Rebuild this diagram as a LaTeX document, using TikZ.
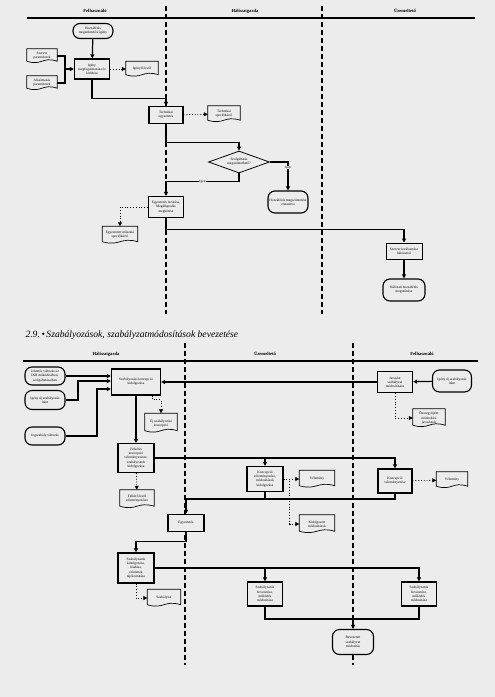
\documentclass[tikz,border=0pt]{standalone}
\usepackage{fontspec}
\setmainfont{Liberation Serif}
\usetikzlibrary{arrows.meta, positioning, calc, shapes.geometric}

\definecolor{scan}{gray}{0.925}
\newcommand{\nodefont}{\fontsize{3.5}{4.2}\selectfont}
\newcommand{\lanefont}{\fontsize{4.6}{5}\selectfont\bfseries}

\begin{document}
\begin{tikzpicture}[
    x=1pt, y=-1pt,
    proc/.style  = {rectangle, draw, line width=1.3pt, fill=scan, inner sep=1pt,
                    font=\nodefont, align=center},
    term/.style  = {rectangle, draw, line width=1.1pt, fill=scan, rounded corners=7pt,
                    inner sep=1pt, font=\nodefont, align=center},
    doc/.style   = {rectangle, inner sep=1pt, font=\nodefont, align=center},
    docline/.style = {line width=0.7pt},
    dec/.style   = {diamond, draw, line width=0.8pt, fill=scan, inner sep=0pt,
                    aspect=2.8, font=\nodefont, align=center},
    conn/.style  = {line width=1.2pt},
    flow/.style  = {conn, -{Triangle[length=4pt, width=4pt]}},
    note/.style  = {dotted, line width=0.8pt, -{Triangle[length=4pt, width=4pt]}},
    lane/.style  = {line width=1.2pt, dash pattern=on 5pt off 3pt},
    head/.style  = {line width=1.3pt},
    lanetitle/.style = {font=\lanefont},
    tag/.style   = {fill=scan, inner sep=0.5pt, font=\nodefont},
]

\fill[scan] (0,0) rectangle (495,697);
\useasboundingbox (0,0) rectangle (495,697);

%% ---- Upper chart: lanes ----
\draw[head] (27,18) -- (475,18);
\draw[lane] (166,6) -- (166,314);
\draw[lane] (322,6) -- (322,314);
\node[lanetitle] (t1) at (95,11)  {Felhasználó};
\node[lanetitle] (t2) at (245,11) {Hálózatgazda};
\node[lanetitle] (t3) at (405,11) {Üzemeltető};

%% ---- Upper chart: request ----
\node[term, minimum width=40pt, minimum height=15pt] (start) at (93,31)
    {Hozzáférés\\megszüntetési igény};
\node[proc, minimum width=35pt, minimum height=20pt] (igeny) at (92,69)
    {Igény\\megfogalmazása és\\kitöltése};
\node[doc, minimum width=30pt, minimum height=14pt] (szpar) at (42,56)
    {Szerver\\paraméterek};
\node[doc, minimum width=30pt, minimum height=14pt] (alpar) at (42,83)
    {Alkalmazás\\paraméterek};
\node[doc, minimum width=32pt, minimum height=15pt] (igenylap) at (142,69)
    {Igénylő levél};
\coordinate (jn1) at (65,69);

%% ---- Upper chart: agreement ----
\node[proc, minimum width=34pt, minimum height=17pt] (tech) at (166,115)
    {Technikai\\egyeztetés};
\node[doc, minimum width=32pt, minimum height=16pt] (techspec) at (224,114)
    {Technikai\\specifikáció};
\node[dec, minimum width=61pt, minimum height=22pt] (dontes) at (239,162)
    {Szolgáltatás\\megszüntethető?};
\node[term, minimum width=40pt, minimum height=22pt] (elut) at (288,202)
    {Hozzáférés megszüntetése\\elutasítva};
\node[proc, minimum width=35pt, minimum height=21pt] (lezar) at (166,207)
    {Egyeztetés lezárása,\\Megállapodás\\megkötése};
\node[doc, minimum width=35pt, minimum height=17pt] (egyspec) at (120,235)
    {Egyeztetett műszaki\\specifikáció};

%% ---- Upper chart: operator ----
\node[proc, line width=1pt, minimum width=36pt, minimum height=16pt] (szerver) at (404,251)
    {Szerver leválasztása\\hálózatról};
\node[term, minimum width=42pt, minimum height=22pt] (vege) at (404,290)
    {Hálózati hozzáférés\\megszűnése};

%% ---- Upper chart: arrows ----
\draw[flow] (start) -- (igeny);
\draw[flow] (szpar.east) -| (jn1) -- (igeny.west);
\draw[conn] (alpar.east) -| (jn1);
\draw[note] (igeny) -- (igenylap);
\draw[flow] (igeny.south) -- ++(0,19) -| (tech.north);
\draw[note] (tech) -- (techspec);
\draw[flow] (tech.south) -- ++(0,18) -| (dontes.north);
\draw[flow] (dontes.south) -- ++(0,8) -| node[tag, pos=0.25] {Igen} (lezar.north);
\draw[flow] (dontes.east) -| node[tag, pos=0.6] {nem} (elut.north);
\draw[note] (lezar.west) -| (egyspec.north);
\draw[flow] (lezar.south) -- ++(0,11) -| (szerver.north);
\draw[flow] (szerver) -- (vege);

%% ---- Section title ----
\node[anchor=west, font=\fontsize{9.6}{11}\selectfont\itshape] (cim) at (22,335)
    {2.9.\,•\,Szabályozások, szabályzatmódosítások bevezetése};

%% ---- Lower chart: lanes ----
\draw[head] (23,361) -- (478,361);
\draw[lane] (185,343) -- (185,665);
\draw[lane] (353,343) -- (353,665);
\node[lanetitle] (t4) at (106,354) {Hálózatgazda};
\node[lanetitle] (t5) at (265,354) {Üzemeltető};
\node[lanetitle] (t6) at (422,354) {Felhasználó};

%% ---- Lower chart: triggers ----
\node[term, minimum width=40pt, minimum height=18pt] (valt) at (45,376)
    {Jelentős változás az\\IKR működésében,\\szolgáltatásaiban};
\node[term, minimum width=40pt, minimum height=19pt] (ujig) at (45,400)
    {Igény új szabályozás\\iránt};
\node[term, minimum width=40pt, minimum height=18pt] (jog) at (45,436)
    {Jogszabály változás};
\coordinate (jn2) at (78,381);
\coordinate (jn3) at (97,389);

%% ---- Lower chart: concept ----
\node[proc, minimum width=49pt, minimum height=26pt] (konc) at (136,382)
    {Szabályozási koncepció\\kidolgozása};
\node[doc, minimum width=32pt, minimum height=19pt] (ujkonc) at (161,423)
    {Új szabályozási\\koncepció};
\node[proc, minimum width=36pt, minimum height=29pt] (felker) at (136,458)
    {Felkérés\\koncepció\\véleményezésre,\\szabályzatok\\kidolgozása};
\node[doc, minimum width=34pt, minimum height=18pt] (felkero) at (137,499)
    {Felkérő levél\\véleményezésre};

%% ---- Lower chart: user proposal ----
\node[term, minimum width=39pt, minimum height=22pt] (ujig2) at (452,381)
    {Igény új szabályozás\\iránt};
\node[proc, minimum width=35pt, minimum height=21pt] (javaslat) at (395,382)
    {Javaslat\\szabályzat\\módosítására};
\node[doc, minimum width=32pt, minimum height=18pt] (javdoc) at (429,418)
    {Összegyűjtött\\módosítási\\javaslatok};

%% ---- Lower chart: opinions ----
\node[proc, minimum width=36pt, minimum height=25pt] (uzvel) at (265,479)
    {Koncepció\\véleményezése,\\módosítások\\kidolgozása};
\node[doc, minimum width=35pt, minimum height=17pt] (uzvelemeny) at (317,479)
    {Vélemény};
\node[doc, minimum width=35pt, minimum height=18pt] (kidolg) at (317,524)
    {Kidolgozott\\módosítások};
\node[proc, minimum width=34pt, minimum height=24pt] (felvel) at (395,481)
    {Koncepció\\véleményezése};
\node[doc, minimum width=31pt, minimum height=16pt] (felvelemeny) at (452,480)
    {Vélemény};
\coordinate (jn5) at (186,499);

%% ---- Lower chart: rules ----
\node[proc, minimum width=36pt, minimum height=17pt] (egyezt) at (186,523)
    {Egyeztetés};
\node[proc, minimum width=36pt, minimum height=30pt] (szkiad) at (136,568)
    {Szabályzatok\\kidolgozása,\\kiadása,\\érintettek\\tájékoztatása};
\node[doc, minimum width=33pt, minimum height=17pt] (szabdoc) at (164,598)
    {Szabályzat};
\node[proc, minimum width=35pt, minimum height=24pt] (uzbev) at (265,594)
    {Szabályzatok\\bevezetése,\\működés\\módosítása};
\node[proc, minimum width=35pt, minimum height=24pt] (felbev) at (419,594)
    {Szabályzatok\\bevezetése,\\működés\\módosítása};
\node[term, minimum width=41pt, minimum height=25pt] (bevez) at (353,642)
    {Bevezetett\\szabályzat\\módosítás};
\coordinate (jn6) at (353,619);

%% ---- Lower chart: arrows ----
\draw[flow] (valt.east) -- (valt.east -| konc.west);
\draw[flow] (ujig.east) -| (jn2) -- (jn2 -| konc.west);
\draw[flow] (jog.east) -| (jn3) -- (jn3 -| konc.west);
\draw[flow] (ujig2) -- (javaslat);
\draw[flow] (javaslat) -- (konc);
\draw[note] (javaslat.south) |- (javdoc.west);
\draw[note] ([xshift=16pt]konc.south) -- ++(0,4) -| (ujkonc.north);
\draw[flow] (konc) -- (felker);
\draw[note] (felker) -- (felkero);
\draw[flow] (felker.east) -| (felvel.north);
\draw[flow] (felker.east -| uzvel) -- (uzvel.north);
\draw[note] (uzvel) -- (uzvelemeny);
\draw[note] (uzvel.east) -- ++(6,0) |- (kidolg.west);
\draw[note] (felvel) -- (felvelemeny);
\draw[conn] (uzvel.south) -- (uzvel.south |- jn5);
\draw[flow] (felvel.south) |- (jn5) -- (egyezt.north);
\draw[flow] (egyezt.south) -- ++(0,9) -| (szkiad.north);
\draw[note] (szkiad.south) |- (szabdoc.west);
\draw[flow] (szkiad.east) -| (felbev.north);
\draw[flow] (szkiad.east -| uzbev) -- (uzbev.north);
\draw[conn] (uzbev.south) |- (jn6);
\draw[flow] (felbev.south) |- (jn6) -- (bevez.north);

%% ---- Document outlines ----
\foreach \n in {szpar, alpar, igenylap, techspec, egyspec, ujkonc, felkero,
                javdoc, uzvelemeny, kidolg, felvelemeny, szabdoc}
  \draw[docline] (\n.north west) -- (\n.north east) -- ([yshift=2pt]\n.south east)
    .. controls ([yshift=7pt]\n.south) and ([yshift=-3pt]\n.south) ..
    ([yshift=2pt]\n.south west) -- cycle;

\end{tikzpicture}
\end{document}
